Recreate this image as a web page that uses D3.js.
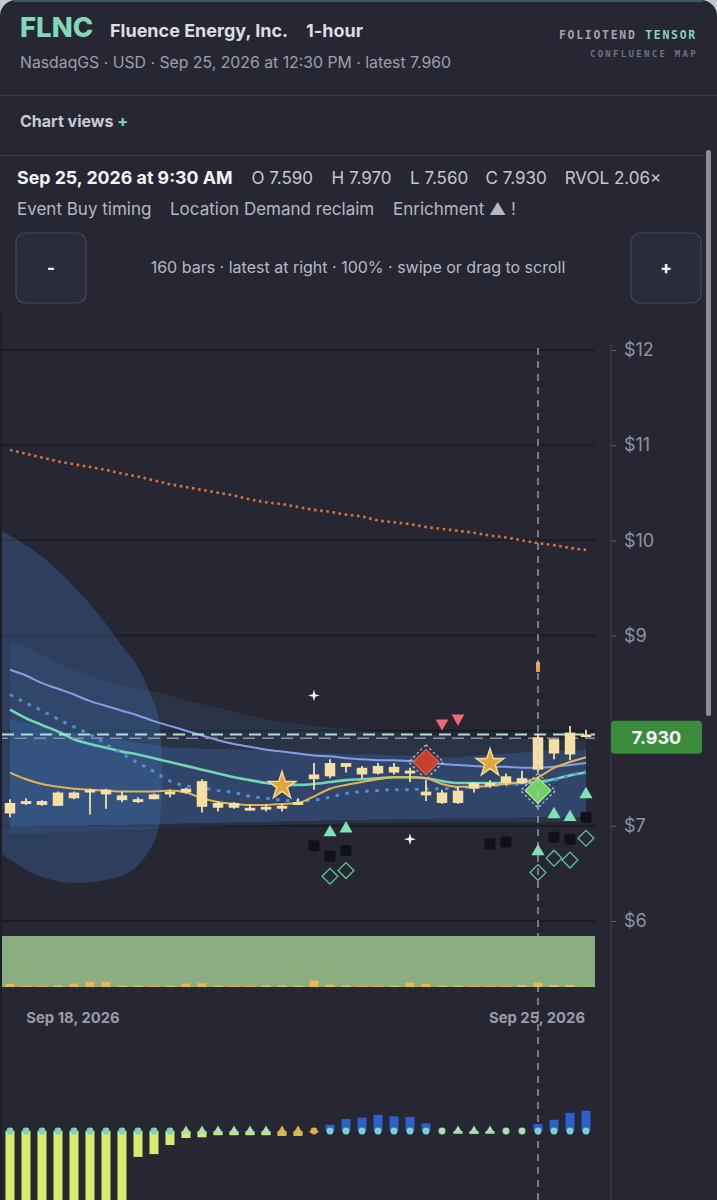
<!DOCTYPE html>
<html><head><meta charset="utf-8">
<script src="https://cdn.jsdelivr.net/npm/d3@7"></script>
<style>html,body{margin:0;padding:0;background:#c5c8cc;overflow:hidden}svg{display:block}</style>
</head><body><svg id="c" width="717" height="1200"></svg>
<script>
// ---------- data ----------
const ticker = "FLNC", company = "Fluence Energy, Inc.", interval = "1-hour";
const subtitle = "NasdaqGS · USD · Sep 25, 2026 at 12:30 PM · latest 7.960";
const infoDate = "Sep 25, 2026 at 9:30 AM";
const infoStats = ["O 7.590", "H 7.970", "L 7.560", "C 7.930", "RVOL 2.06×"];
const infoTags = ["Event Buy timing", "Location Demand reclaim", "Enrichment ▲ !"];
const zoomText = "160 bars · latest at right · 100% · swipe or drag to scroll";

const opens  = [7.13,7.23,7.26,7.21,7.29,7.35,7.38,7.32,7.28,7.28,7.33,7.35,7.47,7.19,7.24,7.19,7.17,7.18,7.22,7.49,7.52,7.66,7.61,7.55,7.62,7.55,7.36,7.35,7.24,7.39,7.42,7.45,7.45,7.59,7.91,7.75,7.94];
const highs  = [7.28,7.29,7.27,7.36,7.36,7.39,7.39,7.36,7.30,7.34,7.38,7.40,7.49,7.26,7.25,7.22,7.23,7.23,7.29,7.66,7.70,7.66,7.63,7.66,7.66,7.61,7.48,7.38,7.41,7.46,7.48,7.55,7.58,7.97,7.91,8.05,8.01];
const lows   = [7.09,7.22,7.21,7.21,7.28,7.12,7.18,7.25,7.24,7.28,7.30,7.34,7.14,7.15,7.18,7.16,7.15,7.15,7.22,7.38,7.50,7.56,7.50,7.54,7.54,7.46,7.26,7.23,7.23,7.35,7.40,7.43,7.44,7.56,7.70,7.69,7.93];
const closes = [7.24,7.26,7.22,7.35,7.35,7.38,7.33,7.27,7.25,7.33,7.36,7.39,7.20,7.24,7.19,7.16,7.20,7.21,7.25,7.54,7.66,7.62,7.54,7.63,7.56,7.58,7.32,7.24,7.37,7.45,7.45,7.52,7.50,7.93,7.76,7.98,7.96];
const volumes = [300,100,100,170,330,500,500,130,130,100,130,330,370,130,100,100,170,170,130,630,230,170,100,100,130,430,300,130,130,100,100,100,200,430,200,200,50];

const lavenderLine = [8.64,8.58,8.50,8.44,8.38,8.31,8.26,8.21,8.16,8.10,8.05,8.00,7.95,7.90,7.86,7.83,7.80,7.78,7.76,7.74,7.73,7.71,7.70,7.69,7.69,7.68,7.67,7.65,7.64,7.63,7.62,7.62,7.61,7.61,7.62,7.64,7.66];
const tealLine = [8.22,8.13,8.06,7.99,7.91,7.86,7.82,7.78,7.75,7.71,7.67,7.63,7.59,7.55,7.51,7.48,7.45,7.43,7.43,7.44,7.46,7.48,7.49,7.50,7.51,7.51,7.50,7.47,7.45,7.45,7.45,7.45,7.45,7.46,7.49,7.53,7.56];
const blueDotLine = [8.38,8.29,8.21,8.12,8.04,7.96,7.86,7.76,7.66,7.57,7.47,7.42,7.40,7.37,7.35,7.31,7.29,7.27,7.26,7.27,7.30,7.34,7.36,7.37,7.38,7.38,7.39,7.39,7.40,7.41,7.42,7.43,7.44,7.46,7.48,7.53,7.57];
const goldLine = [7.56,7.49,7.44,7.41,7.39,7.38,7.37,7.36,7.36,7.36,7.37,7.35,7.29,7.25,7.23,7.22,7.22,7.23,7.24,7.31,7.39,7.43,7.46,7.49,7.51,7.51,7.50,7.44,7.41,7.41,7.42,7.44,7.46,7.51,7.61,7.67,7.72];
const orangeDotLine = [10.95,10.91,10.87,10.83,10.80,10.77,10.74,10.70,10.67,10.63,10.59,10.56,10.53,10.50,10.47,10.43,10.40,10.38,10.35,10.32,10.30,10.27,10.25,10.21,10.19,10.17,10.14,10.12,10.10,10.08,10.05,10.03,10.00,9.97,9.95,9.92,9.90];

const outerUpper = [8.95,8.87,8.79,8.71,8.64,8.58,8.52,8.48,8.44,8.41,8.37,8.32,8.28,8.24,8.20,8.16,8.12,8.09,8.07,8.05,8.03,8.02,8.00,7.99,7.98,7.97,7.96,7.95,7.94,7.94,7.92,7.92,7.91,7.91,7.90,7.90,7.90];
const outerLower = [6.91,6.92,6.92,6.93,6.94,6.94,6.95,6.96,6.96,6.97,6.98,6.98,6.99,6.99,7.00,7.00,7.01,7.01,7.02,7.02,7.02,7.03,7.03,7.03,7.03,7.04,7.04,7.04,7.04,7.04,7.04,7.04,7.04,7.04,7.04,7.04,7.04];
const innerUpper = [8.11,8.08,8.04,8.01,7.98,7.96,7.92,7.90,7.87,7.85,7.82,7.82,7.81,7.81,7.80,7.80,7.79,7.78,7.77,7.76,7.76,7.75,7.75,7.75,7.74,7.74,7.74,7.72,7.72,7.74,7.75,7.76,7.77,7.78,7.79,7.79,7.80];
const innerLower = [6.99,6.99,7.00,7.00,7.00,7.01,7.01,7.01,7.02,7.02,7.02,7.03,7.03,7.03,7.04,7.04,7.04,7.05,7.05,7.05,7.06,7.06,7.06,7.07,7.07,7.07,7.07,7.08,7.08,7.08,7.08,7.08,7.09,7.09,7.09,7.09,7.09];
const coneIdx = [-0.63,2.06,4.19,6.69,8.75,9.38,9.5];
const coneHigh = [10.11,9.82,9.48,8.96,8.39,8.04,7.69];
const coneLow = [6.72,6.46,6.40,6.46,6.75,7.06,7.38];

const latestPrice = 7.96, selectedClose = 7.93, selectedIdx = 33, badgeText = "7.930";
const priceTicks = [6,7,8,9,10,11,12];
const dateTickIdx = [4,33], dateTickLabels = ["Sep 18, 2026","Sep 25, 2026"];

const starIdx = [17,30], starPx = [7.42,7.66];
const sellDiamondIdx = [26], sellDiamondPx = [7.67];
const buyDiamondIdx = [33], buyDiamondPx = [7.37];
const downTriIdx = [27,28], downTriPx = [8.08,8.13];
const sparkleIdx = [19,25], sparklePx = [8.37,6.86];
const upTriIdx = [20,21,33,34,35,36], upTriPx = [6.93,6.97,6.73,7.12,7.09,7.33];
const squareIdx = [19,20,21,30,31,34,35,36], squarePx = [6.79,6.68,6.74,6.81,6.83,6.88,6.86,7.09];
const ringIdx = [20,21,33,34,35,36], ringPx = [6.47,6.53,6.51,6.66,6.64,6.87];
const tickMarkIdx = [33], tickMarkPx = [8.67];

const histVals = [-1,-1,-1,-1,-1,-1,-1,-1,-0.37,-0.33,-0.2,-0.1,-0.09,-0.06,-0.06,-0.06,-0.06,-0.07,-0.07,-0.02,0.09,0.17,0.19,0.23,0.21,0.2,0.11,0,-0.03,-0.04,-0.03,0,0,0.1,0.16,0.26,0.29];
const histShape = ["c","c","c","c","c","c","c","c","c","c","c","t","t","t","t","t","t","t","t","c","c","c","c","c","c","c","c","c","t","t","t","c","c","c","c","c","c"];
const histTone  = ["n","n","n","n","n","n","n","n","n","n","n","n","n","n","n","n","n","w","w","w","p","p","p","p","p","p","p","z","z","z","z","z","z","p","p","p","p"];

// ---------- drawing ----------
const W = 717, H = 1200;
const BG = "#262733";
const svg = d3.select("#c");
const font = "Inter, Roboto, 'Noto Sans', sans-serif";
const mono = "'DejaVu Sans Mono', 'Liberation Mono', monospace";

svg.append("rect").attr("width",W).attr("height",H).attr("fill","#c5c8cc");
svg.append("rect").attr("x",0).attr("y",0).attr("width",W).attr("height",H+40).attr("rx",16).attr("fill",BG);
svg.append("line").attr("x1",14).attr("x2",W-14).attr("y1",1).attr("y2",1).attr("stroke","#3e5a68").attr("stroke-width",2);

// header
svg.append("text").attr("x",20).attr("y",37).text(ticker)
  .attr("font-family",font).attr("font-weight",800).attr("font-size",27.5).attr("fill","#7fd8b8");
svg.append("text").attr("x",110).attr("y",37).text(company)
  .attr("font-family",font).attr("font-weight",700).attr("font-size",18).attr("fill","#dcdde3");
svg.append("text").attr("x",306).attr("y",37).text(interval)
  .attr("font-family",font).attr("font-weight",700).attr("font-size",18).attr("fill","#dcdde3");
svg.append("text").attr("x",20).attr("y",68).text(subtitle)
  .attr("font-family",font).attr("font-size",15.8).attr("fill","#9c9fad");
const brand = svg.append("text").attr("x",697).attr("y",39).attr("text-anchor","end")
  .attr("font-family",mono).attr("font-weight",700).attr("font-size",11.5).attr("letter-spacing",1.7);
brand.append("tspan").text("FOLIOTEND ").attr("fill","#a0a3b0");
brand.append("tspan").text("TENSOR").attr("fill","#7fd8b8");
svg.append("text").attr("x",698).attr("y",57).attr("text-anchor","end").text("CONFLUENCE MAP")
  .attr("font-family",mono).attr("font-weight",700).attr("font-size",9).attr("letter-spacing",2.3).attr("fill","#6f7282");

svg.append("line").attr("x1",0).attr("x2",W).attr("y1",95.5).attr("y2",95.5).attr("stroke","#3a3b48").attr("stroke-width",1.5);
const cv = svg.append("text").attr("x",20).attr("y",127).attr("font-family",font).attr("font-weight",700).attr("font-size",16);
cv.append("tspan").text("Chart views ").attr("fill","#c9cbd3");
cv.append("tspan").text("+").attr("fill","#7fd8b8");
svg.append("line").attr("x1",0).attr("x2",704).attr("y1",155.5).attr("y2",155.5).attr("stroke","#3a3b48").attr("stroke-width",1.5);

// scrollbar
svg.append("rect").attr("x",706).attr("y",150).attr("width",5).attr("height",566).attr("rx",2.5).attr("fill","#8b8d98");

// info rows
svg.append("text").attr("x",17).attr("y",184).text(infoDate)
  .attr("font-family",font).attr("font-weight",700).attr("font-size",17.8).attr("fill","#f3f3f6");
const statX = [251.5,331.5,410,485.6,564.7];
infoStats.forEach((s,i)=>svg.append("text").attr("x",statX[i]).attr("y",184).text(s)
  .attr("font-family",font).attr("font-size",17).attr("fill","#c6c8d0"));
const tagX = [17,170,393];
infoTags.forEach((s,i)=>svg.append("text").attr("x",tagX[i]).attr("y",215).text(s)
  .attr("font-family",font).attr("font-size",17).attr("fill","#b5b8c4"));

// zoom buttons
[[16,"-"],[631,"+"]].forEach(([bx,t])=>{
  svg.append("rect").attr("x",bx).attr("y",233).attr("width",70).attr("height",70).attr("rx",9)
    .attr("fill","#2b2c3a").attr("stroke","#464858").attr("stroke-width",1.2);
  svg.append("text").attr("x",bx+35).attr("y",274).attr("text-anchor","middle").text(t)
    .attr("font-family",font).attr("font-weight",800).attr("font-size",17).attr("fill","#f0f0f4");
});
svg.append("text").attr("x",358).attr("y",273).attr("text-anchor","middle").text(zoomText)
  .attr("font-family",font).attr("font-size",16).attr("fill","#b6b9c5");

// scales
const x = d3.scaleLinear().domain([0,36]).range([10,586]);
const y = d3.scaleLinear().domain([6,12]).range([921,350]);
const yV = d3.scaleLinear().domain([0,5000]).range([987,936]);
const yH = d3.scaleLinear().domain([-1,1]).range([1201,1061]);
const idx = d3.range(opens.length);

svg.append("clipPath").attr("id","plot").append("rect").attr("x",2).attr("y",340).attr("width",593).attr("height",590);

// left border
svg.append("line").attr("x1",1).attr("x2",1).attr("y1",310).attr("y2",H).attr("stroke","#1d1e28").attr("stroke-width",2);

// gridlines
svg.append("g").selectAll("line").data(priceTicks).join("line")
  .attr("x1",2).attr("x2",595).attr("y1",d=>y(d)).attr("y2",d=>y(d))
  .attr("stroke","#1b1c26").attr("stroke-width",2);

const plot = svg.append("g").attr("clip-path","url(#plot)");
const band = (up,lo)=>d3.area().x((d,i)=>x(i)).y0((d,i)=>y(lo[i])).y1((d,i)=>y(up[i])).curve(d3.curveMonotoneX)(idx);
plot.append("path").attr("d",band(outerUpper,outerLower)).attr("fill","rgba(64,92,140,0.24)");
plot.append("path").attr("d",band(innerUpper,innerLower)).attr("fill","rgba(58,100,160,0.38)");
plot.append("path").attr("d", d3.area().x(i=>x(coneIdx[i])).y0(i=>y(coneLow[i])).y1(i=>y(coneHigh[i])).curve(d3.curveMonotoneX)(d3.range(coneIdx.length)))
  .attr("fill","rgba(62,108,170,0.36)");

const line = arr => d3.line().x((d,i)=>x(i)).y(d=>y(d)).curve(d3.curveMonotoneX)(arr);
plot.append("path").attr("d",line(orangeDotLine)).attr("fill","none").attr("stroke","#d8733c").attr("stroke-width",2.6).attr("stroke-dasharray","2.6,3.6");
plot.append("path").attr("d",line(lavenderLine)).attr("fill","none").attr("stroke","#8a9be8").attr("stroke-width",2);
plot.append("path").attr("d",line(tealLine)).attr("fill","none").attr("stroke","#72d6b5").attr("stroke-width",2.6);
plot.append("path").attr("d",line(blueDotLine)).attr("fill","none").attr("stroke","#4f8fd8").attr("stroke-width",3).attr("stroke-dasharray","3.5,6.5");
plot.append("path").attr("d",line(goldLine)).attr("fill","none").attr("stroke","#e2b452").attr("stroke-width",2);

// price reference lines
plot.append("line").attr("x1",2).attr("x2",595).attr("y1",y(selectedClose)+1).attr("y2",y(selectedClose)+1)
  .attr("stroke","#8e919e").attr("stroke-width",1.5).attr("stroke-dasharray","12,7").attr("stroke-dashoffset",6);
plot.append("line").attr("x1",2).attr("x2",595).attr("y1",y(latestPrice)).attr("y2",y(latestPrice))
  .attr("stroke","#a6e3d4").attr("stroke-width",2).attr("stroke-dasharray","12,7");

// candles
const CANDLE = "#f6dfa2";
plot.append("g").selectAll("line").data(idx).join("line")
  .attr("x1",i=>x(i)).attr("x2",i=>x(i)).attr("y1",i=>y(highs[i])).attr("y2",i=>y(lows[i]))
  .attr("stroke",CANDLE).attr("stroke-width",1.8);
plot.append("g").selectAll("rect").data(idx).join("rect")
  .attr("x",i=>x(i)-5.25).attr("width",10.5)
  .attr("y",i=>y(Math.max(opens[i],closes[i])))
  .attr("height",i=>Math.max(2.5,Math.abs(y(opens[i])-y(closes[i]))))
  .attr("fill",CANDLE);

// markers
const mk = svg.append("g");
const diamond = d3.symbol().type(d3.symbolSquare);
function diamonds(ix,px,size,fill,stroke,sw){
  mk.append("g").selectAll("path").data(ix).join("path")
    .attr("d",diamond.size(size)())
    .attr("transform",(d,k)=>`translate(${x(d)},${y(px[k])}) rotate(45)`)
    .attr("fill",fill).attr("stroke",stroke).attr("stroke-width",sw);
}
function rings(ix,px){
  mk.append("g").selectAll("path").data(ix).join("path")
    .attr("d",d3.symbol().type(d3.symbolSquare).size(600)())
    .attr("transform",(d,k)=>`translate(${x(d)},${y(px[k])}) rotate(45)`)
    .attr("fill","none").attr("stroke","#c8cad4").attr("stroke-width",1.2).attr("stroke-dasharray","2.5,2.5");
}
rings(sellDiamondIdx,sellDiamondPx);
diamonds(sellDiamondIdx,sellDiamondPx,330,"#c8402e","#e0604c",1.2);
rings(buyDiamondIdx,buyDiamondPx);
diamonds(buyDiamondIdx,buyDiamondPx,330,"#72d062","#a6ea92",1.2);
diamonds(ringIdx,ringPx,125,"none","#5cc697",1.3);

mk.append("g").selectAll("path").data(starIdx).join("path")
  .attr("d",d3.symbol().type(d3.symbolStar).size(240)())
  .attr("transform",(d,k)=>`translate(${x(d)},${y(starPx[k])})`)
  .attr("fill","#e0a83c").attr("stroke","#f7dc9a").attr("stroke-width",1.4);

mk.append("g").selectAll("path").data(downTriIdx).join("path")
  .attr("d",d3.symbol().type(d3.symbolTriangle).size(70)())
  .attr("transform",(d,k)=>`translate(${x(d)},${y(downTriPx[k])}) rotate(180)`)
  .attr("fill","#f06878");
mk.append("g").selectAll("path").data(upTriIdx).join("path")
  .attr("d",d3.symbol().type(d3.symbolTriangle).size(75)())
  .attr("transform",(d,k)=>`translate(${x(d)},${y(upTriPx[k])})`)
  .attr("fill","#7de3b2");
mk.append("g").selectAll("rect").data(squareIdx).join("rect")
  .attr("x",d=>x(d)-5.5).attr("y",(d,k)=>y(squarePx[k])-5.5).attr("width",11).attr("height",11).attr("rx",2)
  .attr("fill","#101116");
const sparkle = {draw(ctx,size){const r=Math.sqrt(size)/1.2, q=r*0.22;
  ctx.moveTo(0,-r);ctx.lineTo(q,-q);ctx.lineTo(r,0);ctx.lineTo(q,q);ctx.lineTo(0,r);ctx.lineTo(-q,q);ctx.lineTo(-r,0);ctx.lineTo(-q,-q);ctx.closePath();}};
mk.append("g").selectAll("path").data(sparkleIdx).join("path")
  .attr("d",d3.symbol().type(sparkle).size(50)())
  .attr("transform",(d,k)=>`translate(${x(d)},${y(sparklePx[k])})`)
  .attr("fill","#f4f4f8");
mk.append("g").selectAll("rect").data(tickMarkIdx).join("rect")
  .attr("x",d=>x(d)-2).attr("y",(d,k)=>y(tickMarkPx[k])-5).attr("width",4).attr("height",10)
  .attr("fill","#e6a53c");

// selected vertical line
svg.append("line").attr("x1",x(selectedIdx)).attr("x2",x(selectedIdx)).attr("y1",348).attr("y2",H)
  .attr("stroke","#c4c6d0").attr("stroke-width",1.4).attr("stroke-dasharray","7,6").attr("opacity",0.75);

// volume strip
svg.append("rect").attr("x",2).attr("y",936).attr("width",593).attr("height",51).attr("fill","#8aae80");
svg.append("g").selectAll("rect").data(idx).join("rect")
  .attr("x",i=>x(i)-4.5).attr("width",9).attr("y",i=>yV(volumes[i])).attr("height",i=>987-yV(volumes[i]))
  .attr("fill","#f2b457");

// date labels
svg.append("g").selectAll("text").data(dateTickIdx).join("text")
  .attr("x",d=>x(d)-1).attr("y",1023).attr("text-anchor","middle").text((d,k)=>dateTickLabels[k])
  .attr("font-family",font).attr("font-weight",700).attr("font-size",14.8).attr("fill","#9a9cab");

// price axis ($8 label sits under the price badge, as in the source)
const axisG = svg.append("g").attr("transform","translate(611,0)")
  .call(d3.axisRight(y).tickValues(priceTicks).tickFormat(d=>d===8?"":"$"+d).tickSize(5).tickPadding(8));
axisG.select(".domain").remove();
axisG.selectAll(".tick line").attr("stroke","#5a5c6a");
axisG.selectAll(".tick text").attr("fill","#8f92a0").attr("font-family",font).attr("font-size",18);
svg.append("line").attr("x1",611).attr("x2",611).attr("y1",345).attr("y2",H).attr("stroke","#3c3e4c").attr("stroke-width",1.2);

// price badge
svg.append("rect").attr("x",611).attr("y",y(selectedClose)-16.5).attr("width",91).attr("height",33).attr("rx",4).attr("fill","#3b8b3d");
svg.append("text").attr("x",656.5).attr("y",y(selectedClose)+6.5).attr("text-anchor","middle").text(badgeText)
  .attr("font-family",font).attr("font-weight",700).attr("font-size",18).attr("fill","#ffffff");

// momentum histogram
const toneFill = {n:"#d6ec6c", w:"#e3c454", p:"#2f5fcc", z:"#b8e6a0"};
const toneMark = {n:"#7fd0b8", w:"#d9b448", p:"#7ecfd0", z:"#a8e0b0"};
svg.append("g").selectAll("rect").data(idx).join("rect")
  .attr("x",i=>x(i)-4.5).attr("width",9)
  .attr("y",i=>Math.min(yH(histVals[i]),yH(0)))
  .attr("height",i=>Math.abs(yH(histVals[i])-yH(0)))
  .attr("fill",i=>toneFill[histTone[i]]);
const tri = d3.symbol().type(d3.symbolTriangle).size(40)();
const circ = d3.symbol().type(d3.symbolCircle).size(38)();
svg.append("g").selectAll("path").data(idx).join("path")
  .attr("d",i=>histShape[i]==="t"?tri:circ)
  .attr("transform",i=>`translate(${x(i)},${yH(0)})`)
  .attr("fill",i=>histShape[i]==="t" && histTone[i]==="n" ? "#a8e0b0" : toneMark[histTone[i]]);
</script>
</body></html>
